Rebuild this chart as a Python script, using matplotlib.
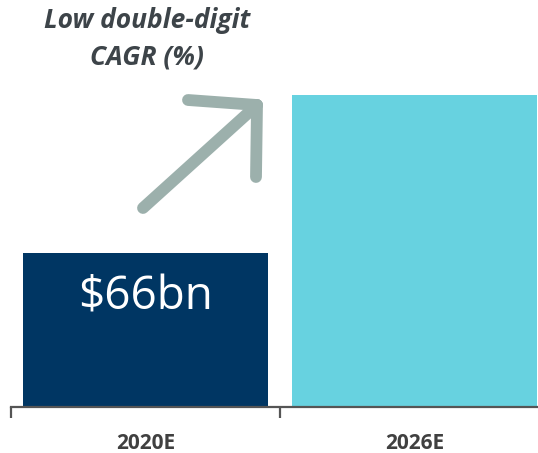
import matplotlib
matplotlib.use("Agg")
from matplotlib import pyplot as plt
from matplotlib.lines import Line2D

# data
years = ['2020E', '2026E']
market_bn = [66, 134]
bar_labels = ['$66bn', '']
bar_colors = ['#003663', '#67D2E0']
cagr_note = 'Low double-digit\nCAGR (%)'

plt.rcParams['font.family'] = ['Open Sans', 'DejaVu Sans']

fig = plt.figure(figsize=(5.38, 4.53), dpi=100)
ax = fig.add_axes([11/538, 1 - 407/453, 1 - 11/538, (407 - 95)/453])

x = list(range(len(years)))
bars = ax.bar(x, market_bn, width=0.91, color=bar_colors, zorder=2)

for b, lab in zip(bars, bar_labels):
    if lab:
        ax.text(b.get_x() + b.get_width()/2, b.get_height()*0.71, lab,
                ha='center', va='center', color='white', fontsize=33)

ax.set_xlim(-0.5, 1.46)
ax.set_ylim(0, max(market_bn))

# axis look
for s in ['top', 'right', 'left']:
    ax.spines[s].set_visible(False)
ax.spines['bottom'].set_color('#555555')
ax.spines['bottom'].set_linewidth(1.6)
ax.spines['bottom'].set_zorder(3)
ax.set_yticks([])
ax.set_xticks(x)
ax.set_xticklabels(years, fontsize=15, fontweight='bold', color='#404040')
ax.tick_params(axis='x', which='major', length=0, pad=19)
ax.set_xticks([-0.5, 0.5], minor=True)
ax.tick_params(axis='x', which='minor', length=8, width=1.6, color='#555555',
               direction='out')

# growth arrow (decoration, in axes fraction)
arrow_col = '#9CB0AC'
tr = ax.transAxes
def px(xp, yp):
    return ((xp - 11) / (538 - 11), (407 - yp) / (407 - 95))
shaft = [px(143, 208), px(257, 105)]
head1 = [px(188, 100), px(257, 105)]
head2 = [px(257, 105), px(256, 177)]
for seg in (shaft, head1, head2):
    ax.add_line(Line2D([seg[0][0], seg[1][0]], [seg[0][1], seg[1][1]],
                       transform=tr, color=arrow_col, lw=8.5,
                       solid_capstyle='round', clip_on=False, zorder=4))

fig.text(147/538, 1 - 39/453, cagr_note, ha='center', va='center',
         fontsize=19, fontweight='bold', fontstyle='italic', color='#3D4449',
         linespacing=1.45)

fig.savefig('out.png', dpi=100)
